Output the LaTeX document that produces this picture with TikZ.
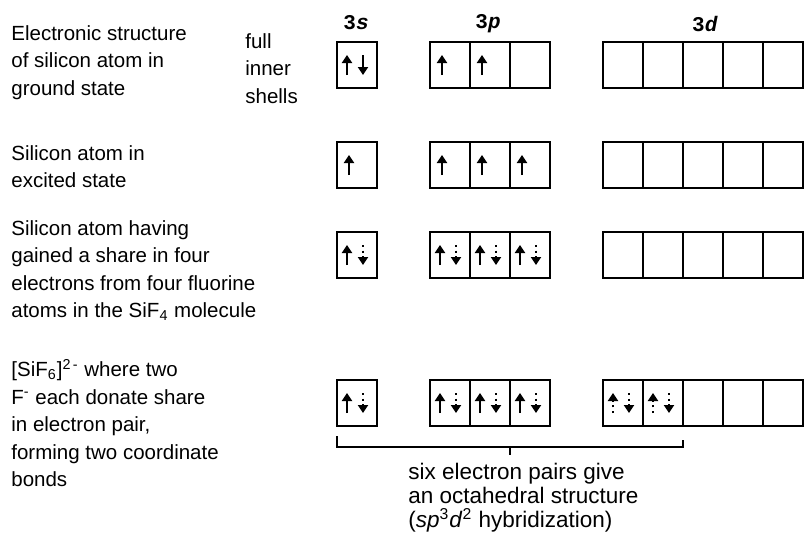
\documentclass[tikz,border=0pt]{standalone}
\usepackage{fontspec}
\setmainfont{Liberation Sans}
\newfontfamily\hdrfont{Liberation Mono}
\usetikzlibrary{positioning, arrows.meta, calc}

\begin{document}
\begin{tikzpicture}[
    x=0.5pt, y=-0.5pt,
    cell/.style={
      draw, line width=1.2pt, minimum width=20pt,
      minimum height=23pt, inner sep=0pt, outer sep=0pt
    },
    desc/.style={
      anchor=north west, align=left, inner sep=0pt,
      font=\fontsize{10.25}{13.75}\selectfont
    },
    hdr/.style={font=\hdrfont\bfseries\fontsize{10.5}{12}\selectfont},
    spin/.style={line width=1.15pt, -{Triangle[width=5pt, length=4pt]}},
    pair/.style={spin, dash pattern=on 1.2pt off 1.6pt},
    node distance=0pt,
]
    \useasboundingbox (0,0) rectangle (805,542);

    % Column headings
    \node[hdr] (hs) at (356,23) {3\textit{s}};
    \node[hdr] (hp) at (488,24) {3\textit{p}};
    \node[hdr] (hd) at (705,24) {3\textit{d}};

    % Orbital boxes, one row per state
    \foreach \r/\y in {1/65, 2/165, 3/255, 4/403} {
      \node[cell] (s\r) at (357,\y) {};
      \node[cell] (p\r1) at (450,\y) {};
      \node[cell, right=of p\r1] (p\r2) {};
      \node[cell, right=of p\r2] (p\r3) {};
      \node[cell] (d\r1) at (623,\y) {};
      \foreach \i [count=\j from 2] in {1,...,4}
        \node[cell, right=of d\r\i] (d\r\j) {};
    }

    % Electrons
    \draw[spin] ($(s1)+(-10,10)$) -- ++(0,-20);
    \draw[spin] ($(s1)+(6,-10)$) -- ++(0,20);
    \foreach \c in {p11, p12, s2, p21, p22, p23}
      \draw[spin] ($(\c)+(-8,10)$) -- ++(0,-20);
    \foreach \c in {s3, p31, p32, p33, s4, p41, p42, p43} {
      \draw[spin] ($(\c)+(-10,10)$) -- ++(0,-20);
      \draw[pair] ($(\c)+(6,-10)$) -- ++(0,20);
    }
    \foreach \c in {d41, d42} {
      \draw[pair] ($(\c)+(-10,10)$) -- ++(0,-20);
      \draw[pair] ($(\c)+(6,-10)$) -- ++(0,20);
    }

    % Row descriptions
    \node[desc] (gs) at (11,25)
      {Electronic structure\\of silicon atom in\\ground state};
    \node[desc] (inner) at (245,33) {full\\inner\\shells};
    \node[desc] (ex) at (11,145) {Silicon atom in\\excited state};
    \node[desc] (share) at (11,220)
      {Silicon atom having\\gained a share in four\\electrons from four fluorine\\atoms in the SiF\textsubscript{4} molecule};
    \node[desc] (cplx) at (11,359)
      {[SiF\textsubscript{6}]\textsuperscript{2\,-} where two\\F\textsuperscript{-} each donate share\\in electron pair,\\forming two coordinate\\bonds};

    % Bracket under the six pairs
    \coordinate (bl) at ($(s4.south west)+(0,10)$);
    \coordinate (br) at ($(d42.south east)+(0,14)$);
    \coordinate (bb) at ($(bl)+(0,11)$);
    \draw[line width=0.9pt] (bl) -- (bb) -| (br);
    \draw[line width=0.9pt] ($(bb)!0.5!(bb -| br)$) -- ++(0,8);

    \node[anchor=north west, align=left, inner sep=0pt,
          font=\fontsize{11.25}{12}\selectfont] (hyb) at (408,463)
      {six electron pairs give\\an octahedral structure\\(\textit{sp}\textsuperscript{3}\textit{d}\textsuperscript{2} hybridization)};
\end{tikzpicture}
\end{document}
